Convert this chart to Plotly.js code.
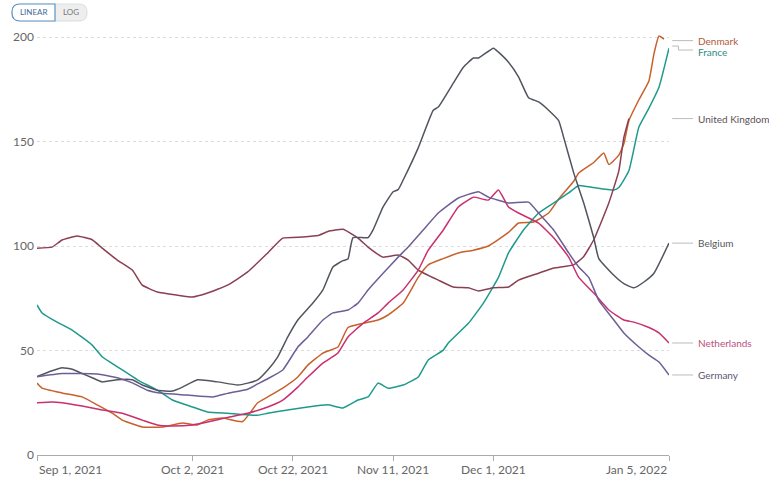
<!DOCTYPE html>
<html>
<head>
<meta charset="utf-8">
<script src="https://cdn.plot.ly/plotly-3.0.1.min.js"></script>
<style>
html,body{margin:0;padding:0;background:#fff;}
#chart{width:769px;height:479px;}
</style>
</head>
<body>
<div id="chart"></div>
<script>
// ---- data ----
const countries = ["Denmark", "France", "United Kingdom", "Belgium", "Netherlands", "Germany"];

const denmarkDates = ["2021-09-01","2021-09-02","2021-09-06","2021-09-10","2021-09-13","2021-09-16","2021-09-18","2021-09-22","2021-09-26","2021-09-30","2021-10-03","2021-10-05","2021-10-08","2021-10-12","2021-10-15","2021-10-17","2021-10-20","2021-10-23","2021-10-25","2021-10-28","2021-10-31","2021-11-02","2021-11-05","2021-11-08","2021-11-10","2021-11-13","2021-11-16","2021-11-18","2021-11-21","2021-11-24","2021-11-27","2021-11-30","2021-12-04","2021-12-06","2021-12-09","2021-12-12","2021-12-14","2021-12-17","2021-12-18","2021-12-21","2021-12-23","2021-12-24","2021-12-26","2021-12-27","2021-12-28","2021-12-30","2022-01-01","2022-01-02","2022-01-03","2022-01-04"];
const denmarkValues = [34.4,32,29.7,27.8,24,20,16.7,13.4,13.4,15.3,14.4,16.7,17.7,16,25,27.8,32,37.3,43,48.8,51.7,61,63,64.6,67,72.7,85,91,94,96.7,98,100,106.5,111,111.5,115.8,122.5,131,135,140,144.5,139,143.5,149,160,170,179,192,200.5,199];

const franceDates = ["2021-09-01","2021-09-02","2021-09-05","2021-09-08","2021-09-12","2021-09-14","2021-09-18","2021-09-21","2021-09-25","2021-09-28","2021-10-02","2021-10-05","2021-10-09","2021-10-15","2021-10-17","2021-10-21","2021-10-25","2021-10-29","2021-11-01","2021-11-04","2021-11-06","2021-11-08","2021-11-10","2021-11-13","2021-11-16","2021-11-18","2021-11-21","2021-11-22","2021-11-26","2021-11-29","2021-12-02","2021-12-04","2021-12-07","2021-12-10","2021-12-13","2021-12-16","2021-12-18","2021-12-21","2021-12-25","2021-12-26","2021-12-28","2021-12-30","2022-01-01","2022-01-03","2022-01-05"];
const franceValues = [71.8,68,63.6,59.8,52.6,47,40.7,36,31,26.3,23,20.6,20,19,20,21.5,23,24,22.5,26.3,27.8,34.4,32,33.5,37.3,45.5,50.2,53.6,63,72.7,85,96.7,107.7,115.8,120.6,125.4,129,128,126.8,128,136,157,166,176,194.7];

const ukDates = ["2021-09-01","2021-09-04","2021-09-06","2021-09-09","2021-09-12","2021-09-14","2021-09-17","2021-09-20","2021-09-22","2021-09-25","2021-09-29","2021-10-02","2021-10-05","2021-10-09","2021-10-13","2021-10-17","2021-10-20","2021-10-24","2021-10-27","2021-10-29","2021-11-01","2021-11-04","2021-11-06","2021-11-09","2021-11-12","2021-11-14","2021-11-16","2021-11-20","2021-11-23","2021-11-26","2021-11-28","2021-12-01","2021-12-04","2021-12-06","2021-12-10","2021-12-13","2021-12-17","2021-12-19","2021-12-21","2021-12-24","2021-12-26","2021-12-27","2021-12-28"];
const ukValues = [99,99.5,102.9,104.8,103,99,93.3,88.5,81.3,78,76.5,75.6,77.5,81.3,87.6,96.7,103.8,104.3,105,107,108,103.8,99.5,94.7,95.7,93.3,88.5,83.7,80.4,80,78.5,80,80.4,83.7,87,89.5,91,95,103,120.6,136,152,161];

const belgiumDates = ["2021-09-01","2021-09-04","2021-09-06","2021-09-08","2021-09-10","2021-09-12","2021-09-14","2021-09-17","2021-09-20","2021-09-22","2021-09-25","2021-09-28","2021-09-30","2021-10-03","2021-10-07","2021-10-11","2021-10-13","2021-10-15","2021-10-17","2021-10-19","2021-10-21","2021-10-23","2021-10-26","2021-10-28","2021-10-30","2021-11-01","2021-11-02","2021-11-03","2021-11-06","2021-11-07","2021-11-09","2021-11-11","2021-11-12","2021-11-13","2021-11-16","2021-11-19","2021-11-20","2021-11-23","2021-11-25","2021-11-27","2021-11-28","2021-12-01","2021-12-02","2021-12-04","2021-12-06","2021-12-08","2021-12-10","2021-12-12","2021-12-14","2021-12-15","2021-12-17","2021-12-19","2021-12-21","2021-12-22","2021-12-25","2021-12-27","2021-12-29","2021-12-31","2022-01-02","2022-01-05"];
const belgiumValues = [37.5,40.3,41.8,41,39,37,35,36,36,33.5,31,30.6,32.5,36,35,33.5,34.4,36,40.7,47,56.5,64.6,72.7,79,90,93,93.8,104,104,107.7,118.7,126,127,131.6,147,165,166.5,178,185.6,190,190,194.7,192.8,188,181,171,169,165,160,152,135,120.6,104,94,86,82,80,82.8,87,101.4];

const netherlandsDates = ["2021-09-01","2021-09-04","2021-09-06","2021-09-10","2021-09-14","2021-09-18","2021-09-22","2021-09-25","2021-09-28","2021-10-02","2021-10-05","2021-10-09","2021-10-13","2021-10-17","2021-10-20","2021-10-23","2021-10-25","2021-10-28","2021-10-31","2021-11-02","2021-11-05","2021-11-08","2021-11-10","2021-11-13","2021-11-16","2021-11-18","2021-11-21","2021-11-24","2021-11-27","2021-11-30","2021-12-02","2021-12-04","2021-12-06","2021-12-10","2021-12-13","2021-12-16","2021-12-18","2021-12-21","2021-12-24","2021-12-27","2021-12-29","2022-01-01","2022-01-03","2022-01-05"];
const netherlandsValues = [25,25.4,25,23.4,21.5,20,16.7,14.4,13.9,14.4,15.8,18,20,23,26.3,32.5,37.3,44,48.8,56.5,63,68,72.7,79,88.5,98,107.7,118.7,123.4,122,126.8,118.7,115.8,111,104,94.7,85,77.5,69.4,64.6,63.6,61,58.4,53.6];

const germanyDates = ["2021-09-01","2021-09-06","2021-09-13","2021-09-17","2021-09-20","2021-09-23","2021-09-26","2021-10-01","2021-10-06","2021-10-09","2021-10-13","2021-10-15","2021-10-17","2021-10-20","2021-10-23","2021-10-25","2021-10-28","2021-10-30","2021-11-02","2021-11-04","2021-11-06","2021-11-09","2021-11-12","2021-11-14","2021-11-17","2021-11-20","2021-11-22","2021-11-24","2021-11-28","2021-11-30","2021-12-04","2021-12-08","2021-12-10","2021-12-13","2021-12-16","2021-12-18","2021-12-20","2021-12-22","2021-12-25","2021-12-27","2021-12-30","2022-01-01","2022-01-03","2022-01-05"];
const germanyValues = [37.5,39,38.8,37,34.5,31,29.5,28.7,27.8,29.5,31.5,34,36.5,40.7,51.7,56.5,64.6,68,69.4,72.7,79,87,94.7,99.5,107.7,115.8,119.6,123,126,123.4,120.6,121,115.8,107.7,96.7,90,85,74,64.6,58.4,51.7,47.8,44.5,38.3];

const xTickVals = ["2021-09-01","2021-10-02","2021-10-22","2021-11-11","2021-12-01","2022-01-05"];
const xTickText = ["Sep 1, 2021","Oct 2, 2021","Oct 22, 2021","Nov 11, 2021","Dec 1, 2021","Jan 5, 2022"];
const yTickVals = [0, 50, 100, 150, 200];

// ---- styling ----
const colors = {
  "Denmark": "#c8602c",
  "France": "#1e9a8c",
  "United Kingdom": "#8a3f52",
  "Belgium": "#50555e",
  "Netherlands": "#c8306e",
  "Germany": "#6e5e96"
};
const labelColors = {
  "Denmark": "#b05a38",
  "France": "#2a8c82",
  "United Kingdom": "#5d4f56",
  "Belgium": "#55585e",
  "Netherlands": "#bb4f7b",
  "Germany": "#5d5873"
};
const labelShift = {"Denmark": -2, "France": -4};

const seriesData = {
  "Denmark": [denmarkDates, denmarkValues],
  "France": [franceDates, franceValues],
  "United Kingdom": [ukDates, ukValues],
  "Belgium": [belgiumDates, belgiumValues],
  "Netherlands": [netherlandsDates, netherlandsValues],
  "Germany": [germanyDates, germanyValues]
};

const FONT = "Lato, 'Open Sans', sans-serif";

const traces = countries.map(c => ({
  type: "scatter",
  mode: "lines",
  name: c,
  x: seriesData[c][0],
  y: seriesData[c][1],
  line: {color: colors[c], width: 1.5, shape: "spline", smoothing: 0.4},
  hoverinfo: "skip",
  showlegend: false
}));

const annotations = [];
const shapes = [];

// x tick labels
xTickVals.forEach((v, i) => {
  annotations.push({
    xref: "x", yref: "paper", x: v, y: 0,
    yanchor: "top", yshift: -5,
    xanchor: i === 0 ? "left" : (i === xTickVals.length - 1 ? "right" : "center"),
    text: xTickText[i], showarrow: false,
    font: {family: FONT, size: 12, color: "#666"}
  });
});

// end labels with connector lines
countries.forEach(c => {
  const vals = seriesData[c][1];
  const last = vals[vals.length - 1];
  const sh = labelShift[c] || 0;
  annotations.push({
    xref: "paper", yref: "y", x: 1.042, y: last,
    xanchor: "left", yanchor: "middle", yshift: sh,
    text: c, showarrow: false,
    font: {family: FONT, size: 10, color: labelColors[c]}
  });
  if (c === "France") {
    shapes.push({type: "line", xref: "paper", yref: "y", x0: 1.005, x1: 1.015, y0: last + 1, y1: last + 1, line: {color: "#bbb", width: 1}});
    shapes.push({type: "line", xref: "paper", yref: "y", x0: 1.015, x1: 1.015, y0: last + 1, y1: last - 0.9, line: {color: "#bbb", width: 1}});
    shapes.push({type: "line", xref: "paper", yref: "y", x0: 1.015, x1: 1.038, y0: last - 0.9, y1: last - 0.9, line: {color: "#bbb", width: 1}});
  } else {
    const yy = last + (c === "Denmark" ? -0.7 : 0);
    shapes.push({type: "line", xref: "paper", yref: "y", x0: 1.005, x1: 1.038, y0: yy, y1: yy, line: {color: "#bbb", width: 1}});
  }
});

// LINEAR / LOG toggle
const px2x = p => (p - 37) / 632;
const py2y = p => (455 - p) / 420;
function roundRectPath(x0, x1, y0, y1, rx, ry, leftRound, rightRound) {
  const X0 = px2x(x0), X1 = px2x(x1), Y0 = py2y(y0), Y1 = py2y(y1);
  const RX = rx / 632, RY = ry / 420;
  let p = "";
  p += leftRound ? `M ${X0 + RX},${Y0} ` : `M ${X0},${Y0} `;
  if (rightRound) {
    p += `L ${X1 - RX},${Y0} Q ${X1},${Y0} ${X1},${Y0 - RY} L ${X1},${Y1 + RY} Q ${X1},${Y1} ${X1 - RX},${Y1} `;
  } else {
    p += `L ${X1},${Y0} L ${X1},${Y1} `;
  }
  if (leftRound) {
    p += `L ${X0 + RX},${Y1} Q ${X0},${Y1} ${X0},${Y1 + RY} L ${X0},${Y0 - RY} Q ${X0},${Y0} ${X0 + RX},${Y0} Z`;
  } else {
    p += `L ${X0},${Y1} Z`;
  }
  return p;
}
shapes.push({type: "path", xref: "paper", yref: "paper", path: roundRectPath(12, 87, 4, 21, 8, 8, true, true), fillcolor: "#eeeeee", line: {color: "#dddddd", width: 1}});
shapes.push({type: "path", xref: "paper", yref: "paper", path: roundRectPath(12, 55, 4, 21, 8, 8, true, false), fillcolor: "#ffffff", line: {color: "#5b93c4", width: 1.2}});
annotations.push({xref: "paper", yref: "paper", x: px2x(33.5), y: py2y(12.5), xanchor: "center", yanchor: "middle", text: "LINEAR", showarrow: false, font: {family: FONT, size: 8, color: "#3d6b95"}});
annotations.push({xref: "paper", yref: "paper", x: px2x(71), y: py2y(12.5), xanchor: "center", yanchor: "middle", text: "LOG", showarrow: false, font: {family: FONT, size: 8, color: "#777"}});

const layout = {
  width: 769, height: 479,
  margin: {l: 37, r: 100, t: 35, b: 24, pad: 0},
  paper_bgcolor: "#fff", plot_bgcolor: "#fff",
  showlegend: false,
  xaxis: {
    type: "date",
    range: ["2021-09-01", "2022-01-05"],
    tickmode: "array", tickvals: xTickVals,
    showticklabels: false,
    ticks: "outside", ticklen: 5, tickcolor: "#aaa",
    showline: true, linecolor: "#aaa", linewidth: 1,
    showgrid: false, zeroline: false, fixedrange: true
  },
  yaxis: {
    range: [0, 201],
    tickmode: "array", tickvals: yTickVals,
    showgrid: true, gridcolor: "#dcdcdc", griddash: "dot", gridwidth: 1,
    zeroline: false, showline: false, ticks: "",
    ticklabelstandoff: 2,
    tickfont: {family: FONT, size: 12, color: "#666"},
    fixedrange: true
  },
  annotations: annotations,
  shapes: shapes
};

Plotly.newPlot("chart", traces, layout, {displayModeBar: false, staticPlot: true});
</script>
</body>
</html>
